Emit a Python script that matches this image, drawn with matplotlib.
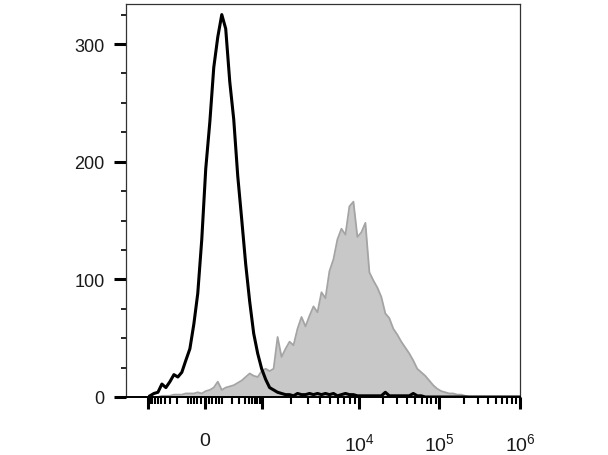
import numpy as np
import matplotlib
matplotlib.use("Agg")
from matplotlib import pyplot as plt
from matplotlib.ticker import FixedLocator

plt.rcParams['font.family'] = ['Liberation Sans', 'DejaVu Sans']
plt.rcParams['mathtext.fontset'] = 'custom'
plt.rcParams['mathtext.rm'] = 'Liberation Sans'
plt.rcParams['mathtext.it'] = 'Liberation Sans:italic'

# fluorescence intensity (bin centres) and event counts
fluor = [-900, -728, -588, -475, -383, -307, -245, -195, -153, -118, -87, -61, -38, -16,
         5, 27, 49, 74, 102, 134, 173, 219, 275, 343, 426, 529, 655, 810, 1000,
         1099, 1207, 1326, 1457, 1600, 1758, 1931, 2121, 2330, 2560, 2812, 3089, 3394,
         3728, 4095, 4499, 4942, 5429, 5964, 6551, 7197, 7906, 8685, 9541,
         10593, 11885, 13335, 14962, 16788, 18836, 21135, 23714, 26607, 29854, 33497,
         37584, 42170, 47315, 53088, 59566, 66834, 74989, 84140, 94406,
         105848, 118618, 132896, 148893, 166810, 186887, 209383, 234572, 1000000]

control = [1, 3, 4, 11, 8, 13, 19, 17, 21, 31, 41, 62, 88, 134,
           194, 234, 280, 306, 325, 313, 268, 236, 188, 151, 113, 81, 54, 37, 24,
           15, 8, 6, 4, 3, 2, 2, 1, 3, 2, 2, 3, 2,
           3, 2, 3, 2, 3, 1, 2, 3, 2, 2, 1,
           1, 1, 1, 1, 1, 1, 4, 1, 1, 1, 1,
           1, 1, 3, 1, 1, 0, 0, 0, 0,
           0, 0, 0, 0, 0, 0, 0, 0, 0]

stained = [0, 0, 0, 1, 1, 1, 2, 2, 2, 3, 3, 3, 4, 3,
           5, 6, 8, 13, 6, 8, 9, 10, 12, 14, 17, 20, 18, 17, 22,
           24, 22, 24, 51, 34, 41, 47, 44, 58, 68, 60, 69, 77,
           72, 89, 84, 107, 117, 134, 143, 138, 162, 166, 136,
           140, 148, 106, 99, 93, 85, 71, 67, 58, 53, 47,
           42, 37, 31, 24, 21, 18, 14, 10, 7,
           5, 4, 3, 3, 2, 2, 1, 0, 0]

x_major = [-1000, 0, 1000, 10000, 100000, 1000000]
x_major_labels = ['', '0', '', '$10^4$', '$10^5$', '$10^6$']
x_minor = ([-v for v in range(100, 1000, 100)] + [-80, -60, -40, -20, 20, 40, 60, 80]
           + list(range(100, 1000, 100)) + [k * 1000 for k in range(2, 10)]
           + [k * 10000 for k in range(2, 10)] + [k * 100000 for k in range(2, 10)])
y_major = [0, 100, 200, 300]
y_minor = [25, 50, 75, 125, 150, 175, 225, 250, 275, 325]

# biexponential-like display axis (asinh near zero, log per decade)
anchor_x = np.array([-1e5, -1e3, 0, 1e3, 1e4, 1e5, 1e6, 1e7])
anchor_g = np.arcsinh(anchor_x / 100.0)
anchor_p = np.array([61, 148, 205, 262, 360, 440, 521, 602], dtype=float)


def fwd(x):
    return np.interp(np.arcsinh(np.asarray(x, dtype=float) / 100.0), anchor_g, anchor_p)


def inv(p):
    return 100.0 * np.sinh(np.interp(np.asarray(p, dtype=float), anchor_p, anchor_g))


fig = plt.figure(figsize=(6.08, 4.56), dpi=100)
ax = fig.add_axes([126 / 608, 1 - 398 / 456, (520 - 126) / 608, (398 - 5) / 456])
ax.set_xscale('function', functions=(fwd, inv))

ax.fill_between(fluor, stained, color='#c8c8c8', lw=0)
ax.plot(fluor, stained, color='#a4a4a4', lw=1.3)
ax.plot(fluor, control, color='black', lw=2.2)

ax.set_xlim(float(inv(126)), 1e6)
ax.set_ylim(0, 334)

ax.xaxis.set_major_locator(FixedLocator(x_major))
ax.xaxis.set_minor_locator(FixedLocator(x_minor))
ax.set_xticklabels(x_major_labels)
ax.yaxis.set_major_locator(FixedLocator(y_major))
ax.yaxis.set_minor_locator(FixedLocator(y_minor))
ax.set_yticklabels([str(v) for v in y_major])

ax.tick_params(axis='both', which='major', direction='out', length=8.5, width=2.2,
               color='black', labelsize=13, labelcolor='#1a1a1a')
ax.tick_params(axis='y', which='minor', direction='out', length=3.5, width=1.2, color='black')
ax.tick_params(axis='x', which='minor', direction='out', length=5, width=1.5, color='black')
ax.tick_params(axis='x', which='major', pad=17, labelsize=14)
ax.tick_params(axis='y', which='major', pad=7)

for s in ax.spines.values():
    s.set_color('#333333')
    s.set_linewidth(0.9)
ax.spines['bottom'].set_linewidth(1.4)
ax.spines['bottom'].set_color('black')

fig.savefig('out.png', dpi=100)
